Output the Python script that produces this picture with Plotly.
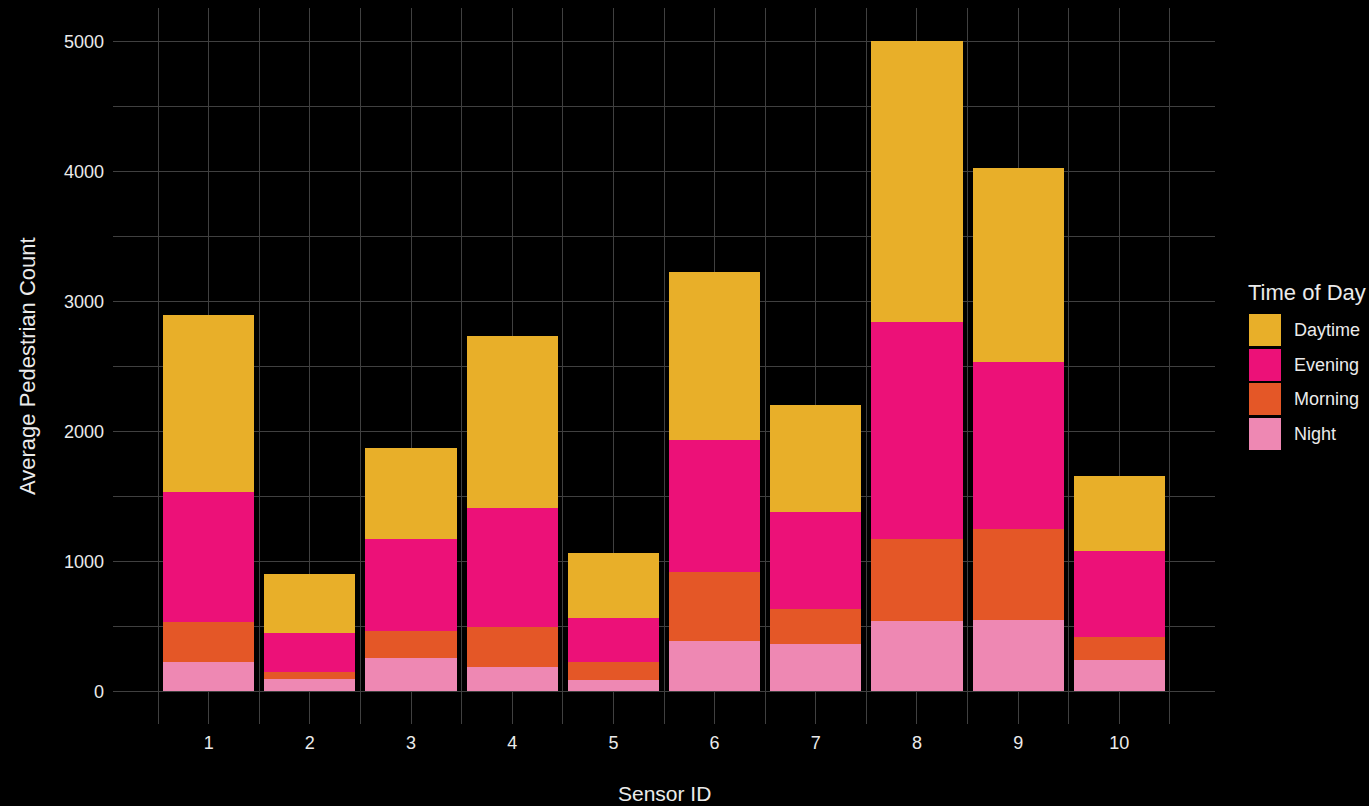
import plotly.graph_objects as go

sensors = [1, 2, 3, 4, 5, 6, 7, 8, 9, 10]
night = [228, 98, 259, 190, 90, 390, 367, 544, 552, 244]
morning = [308, 53, 208, 308, 138, 531, 269, 631, 700, 177]
evening = [1000, 300, 708, 915, 339, 1015, 746, 1669, 1284, 661]
daytime = [1362, 454, 699, 1323, 500, 1292, 823, 2161, 1492, 577]

series = [("Night", night, "#EE88B3"),
          ("Morning", morning, "#E45727"),
          ("Evening", evening, "#EC1178"),
          ("Daytime", daytime, "#E8AF29")]
legend_order = ["Daytime", "Evening", "Morning", "Night"]

W, H = 1369, 806
L, R, T, B = 113, 154, 8, 82
PW, PH = W - L - R, H - T - B
TEXT = "#EBEBEB"
GRID = "#404040"
FONT = "Liberation Sans, Arial, sans-serif"

fig = go.Figure()
for name, vals, col in series:
    fig.add_trace(go.Bar(x=sensors, y=vals, name=name, marker_color=col,
                         marker_line_width=0, width=0.9, showlegend=False))

totals = [sum(v) for v in zip(*[s[1] for s in series])]
ymax = max(totals)
pad = ymax * 0.05

def px(x):
    return (x - L) / PW

def py(y):
    return (H - B - y) / PH

shapes = []
annotations = []
colors = {n: c for n, _, c in series}
sw_tops = [314, 349, 383, 418]
for name, top in zip(legend_order, sw_tops):
    shapes.append(dict(type="rect", xref="paper", yref="paper",
                       x0=px(1249), x1=px(1281), y0=py(top + 32), y1=py(top),
                       fillcolor=colors[name], line_width=0))
    annotations.append(dict(text=name, xref="paper", yref="paper",
                            x=px(1292), y=py(top + 16), xanchor="left", yanchor="middle",
                            showarrow=False, font=dict(size=18, color=TEXT, family=FONT)))
annotations.append(dict(text="Time of Day", xref="paper", yref="paper",
                        x=px(1246), y=py(292), xanchor="left", yanchor="middle",
                        showarrow=False, font=dict(size=22, color=TEXT, family=FONT)))
annotations.append(dict(text="Sensor ID", xref="paper", yref="paper",
                        x=0.5, y=py(793), xanchor="center", yanchor="middle",
                        showarrow=False, font=dict(size=21, color=TEXT, family=FONT)))
annotations.append(dict(text="Average Pedestrian Count", xref="paper", yref="paper",
                        x=px(27), y=0.5, xanchor="center", yanchor="middle", textangle=-90,
                        showarrow=False, font=dict(size=22, color=TEXT, family=FONT)))

fig.update_layout(
    barmode="stack",
    width=W, height=H,
    margin=dict(l=L, r=R, t=T, b=B),
    paper_bgcolor="#000000", plot_bgcolor="#000000",
    font=dict(family=FONT, color=TEXT, size=18),
    shapes=shapes, annotations=annotations,
    showlegend=False,
    bargap=0,
)
fig.update_xaxes(range=[0.55 - 0.495, 10.45 + 0.495], tickvals=sensors,
                 ticktext=[str(s) for s in sensors],
                 showgrid=True, gridcolor=GRID, gridwidth=1, zeroline=False,
                 showline=False, ticks="", ticklabelstandoff=6,
                 tickfont=dict(size=18, color=TEXT),
                 minor=dict(tick0=0.5, dtick=1, showgrid=True, gridcolor=GRID, gridwidth=1))
fig.update_yaxes(range=[-pad, ymax + pad], tickvals=[0, 1000, 2000, 3000, 4000, 5000],
                 showgrid=True, gridcolor=GRID, gridwidth=1, zeroline=False,
                 showline=False, ticks="", ticklabelstandoff=8,
                 tickfont=dict(size=18, color=TEXT),
                 minor=dict(tick0=500, dtick=1000, showgrid=True, gridcolor=GRID, gridwidth=1))

fig.write_html("out.html", config={"displayModeBar": False},
               post_script="document.body.style.margin='0';")
